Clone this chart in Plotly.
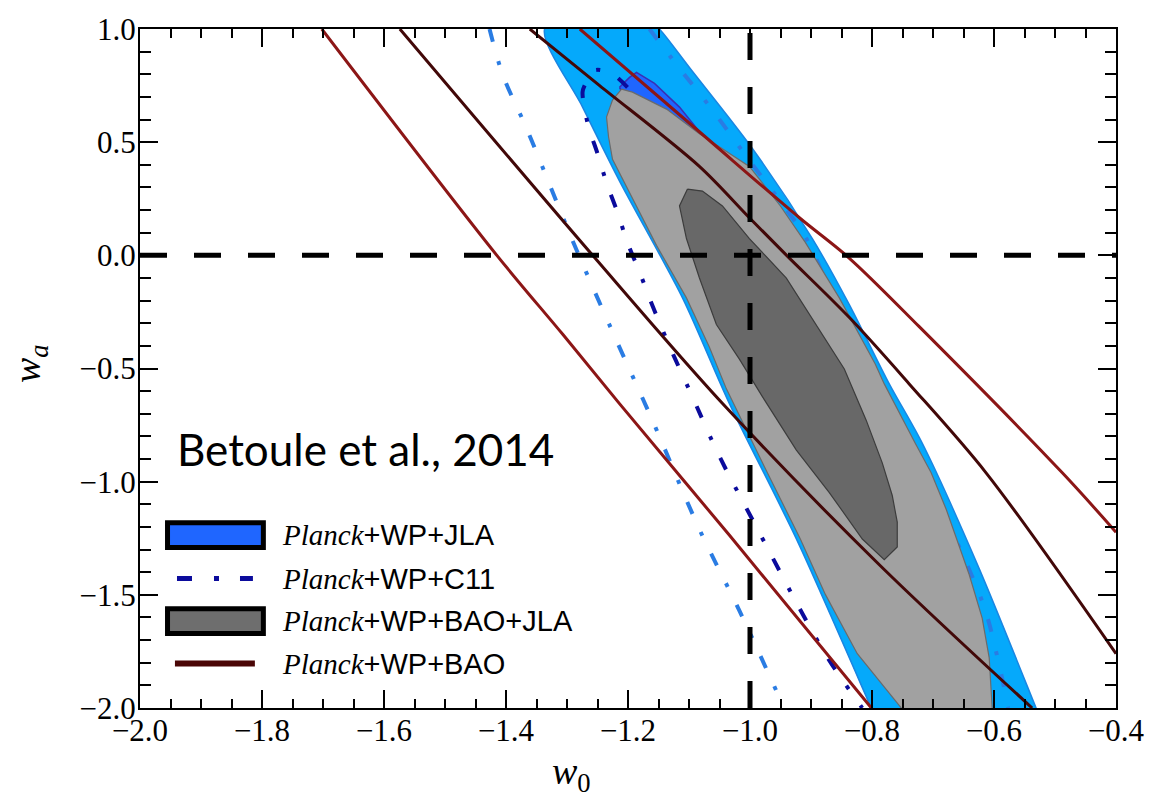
import plotly.graph_objects as go

# ---- axis ticks -------------------------------------------------------
x_tick_vals = [-2.0, -1.8, -1.6, -1.4, -1.2, -1.0, -0.8, -0.6, -0.4]
x_tick_text = ["\u22122.0", "\u22121.8", "\u22121.6", "\u22121.4", "\u22121.2",
               "\u22121.0", "\u22120.8", "\u22120.6", "\u22120.4"]
y_tick_vals = [1.0, 0.5, 0.0, -0.5, -1.0, -1.5, -2.0]
y_tick_text = ["1.0", "0.5", "0.0", "\u22120.5", "\u22121.0", "\u22121.5", "\u22122.0"]

# ---- Planck+WP+JLA (filled contours) ---------------------------------
jla95_w0 = [-1.27, -1.3367, -1.2745, -1.2139, -1.1107, -1.0338, -0.9240, -0.8012, -0.785,
            -0.516, -0.5310, -0.6243, -0.7177, -0.7717, -0.8372, -0.8978, -0.9961,
            -1.0993, -1.1484, -1.18, -1.27]
jla95_wa = [1.12, 1.0, 0.655, 0.328, -0.188, -0.655, -1.253, -2.0, -2.1,
            -2.1, -2.0, -1.384, -0.830, -0.568, -0.218, 0.074, 0.472,
            0.830, 1.0, 1.08, 1.12]

jla68_w0 = [-1.2139, -1.1975, -1.1861, -1.1566, -1.1156, -1.0829, -1.0174, -0.9601,
            -0.9109, -0.8863, -0.9191, -0.9846, -1.0665, -1.1484, -1.1975, -1.2139]
jla68_wa = [0.7424, 0.786, 0.8079, 0.7598, 0.6550, 0.5459, 0.3799, 0.1965,
            0.0, -0.1747, -0.2183, -0.0437, 0.2183, 0.4803, 0.6550, 0.7424]

# ---- Planck+WP+C11 (dash-dot contours) -------------------------------
c11_outer_left_w0 = [-1.427, -1.405, -1.366, -1.291, -1.227, -1.160, -1.083, -1.017, -0.944]
c11_outer_left_wa = [1.0, 0.795, 0.559, 0.066, -0.328, -0.729, -1.210, -1.572, -2.0]

c11_outer_right_w0 = [-1.1648, -1.1206, -1.0616, -1.0059, -0.9388, -0.9077, -0.8372,
                      -0.7226, -0.6178, -0.5932, -0.5768]
c11_outer_right_wa = [1.0, 0.843, 0.642, 0.437, 0.1965, 0.0742, -0.349,
                      -0.917, -1.541, -1.790, -2.0]

c11_inner_w0 = [-1.2008, -1.227, -1.255, -1.271, -1.2745, -1.266, -1.250, -1.235, -1.217,
                -1.201, -1.181, -1.165, -1.145, -1.124, -1.104, -1.083, -1.062, -1.039,
                -1.017, -0.968, -0.919, -0.870, -0.816]
c11_inner_wa = [0.742, 0.803, 0.817, 0.751, 0.721, 0.581, 0.450, 0.319, 0.188,
                0.057, -0.074, -0.188, -0.319, -0.450, -0.568, -0.694, -0.821, -0.948,
                -1.061, -1.310, -1.559, -1.790, -2.0]

# ---- Planck+WP+BAO+JLA (filled contours) -----------------------------
bj95_w0 = [-1.2106, -1.1926, -1.1369, -1.0829, -1.0010, -0.9502, -0.9093, -0.8536,
           -0.7947, -0.7799, -0.7291, -0.7030, -0.6784, -0.6407, -0.6194, -0.6079,
           -0.6030, -0.6008, -0.722, -0.7521, -0.8241, -0.8765, -0.9175, -0.9715,
           -1.0387, -1.0665, -1.1042, -1.1533, -1.1926, -1.2254, -1.2319, -1.2352,
           -1.2254, -1.2106]
bj95_wa = [0.734, 0.721, 0.646, 0.537, 0.393, 0.218, 0.057, -0.188,
           -0.480, -0.568, -0.830, -0.961, -1.122, -1.410, -1.603, -1.777,
           -2.0, -2.1, -2.1, -2.0, -1.760, -1.498, -1.253, -0.961,
           -0.590, -0.406, -0.188, 0.044, 0.249, 0.424, 0.524, 0.611,
           0.686, 0.734]

bj68_w0 = [-1.1025, -1.0780, -1.0452, -1.0010, -0.9404, -0.8913, -0.8454, -0.8094,
           -0.7832, -0.7668, -0.7586, -0.7586, -0.7799, -0.8159, -0.8700, -0.9240,
           -0.9797, -1.0174, -1.0551, -1.0829, -1.1042, -1.1156, -1.1025]
bj68_wa = [0.2926, 0.2838, 0.2183, 0.0742, -0.1004, -0.3057, -0.5022, -0.7293,
           -0.9170, -1.0611, -1.1790, -1.2882, -1.3450, -1.2533, -1.0480, -0.8603,
           -0.6245, -0.4585, -0.3057, -0.1004, 0.0742, 0.2183, 0.2926]

# ---- Planck+WP+BAO (line contours) -----------------------------------
bao95_left_w0 = [-1.702, -1.415, -1.307, -1.214, -1.034, -0.801]
bao95_left_wa = [1.0, 0.0, -0.349, -0.655, -1.236, -2.0]

bao68_left_w0 = [-1.574, -1.258, -1.045, -0.788, -0.5375]
bao68_left_wa = [1.0, 0.0, -0.655, -1.367, -2.0]

bao68_right_w0 = [-1.361, -1.247, -1.083, -1.001, -0.940, -0.837, -0.739, -0.613, -0.4]
bao68_right_wa = [1.0, 0.751, 0.393, 0.166, 0.0, -0.275, -0.568, -0.961, -1.760]

bao95_right_w0 = [-1.279, -1.083, -0.919, -0.837, -0.723, -0.488, -0.4]
bao95_right_wa = [1.0, 0.546, 0.166, -0.013, -0.314, -0.961, -1.223]

# ---- reference model (w0 = -1, wa = 0) --------------------------------
w0_lcdm = -1.0
wa_lcdm = 0.0

# ---- styles -------------------------------------------------------------
SERIF = "Liberation Serif"
SANS = "Liberation Sans"
JLA95_FILL, JLA95_EDGE = "#05a9fb", "#1b86e2"
JLA68_FILL, JLA68_EDGE = "#1f66ff", "#3a2fb4"
BJ95_FILL, BJ95_EDGE = "#a1a1a1", "#6b6b6b"
BJ68_FILL, BJ68_EDGE = "#686868", "#3c3c3c"
C11_LIGHT, C11_DARK = "#2a7ce3", "#0b0b9c"
BAO_RED, BAO_DARK = "#8c1616", "#420808"
DASHDOT = "13px,20px,4px,20px"

fig = go.Figure()


def filled(xs, ys, fill, edge, width, shape="linear"):
    fig.add_trace(go.Scatter(x=xs, y=ys, mode="lines", fill="toself",
                             fillcolor=fill,
                             line=dict(color=edge, width=width, shape=shape, smoothing=0.8),
                             hoverinfo="skip", showlegend=False))


def curve(xs, ys, color, width, dash="solid", shape="spline"):
    fig.add_trace(go.Scatter(x=xs, y=ys, mode="lines",
                             line=dict(color=color, width=width, dash=dash,
                                       shape=shape, smoothing=0.9),
                             hoverinfo="skip", showlegend=False))


filled(jla95_w0, jla95_wa, JLA95_FILL, JLA95_EDGE, 1.5, "spline")
filled(jla68_w0, jla68_wa, JLA68_FILL, JLA68_EDGE, 1.5)

curve(c11_outer_left_w0, c11_outer_left_wa, C11_LIGHT, 4, DASHDOT)
curve(c11_outer_right_w0, c11_outer_right_wa, C11_LIGHT, 4, DASHDOT)
curve(c11_inner_w0, c11_inner_wa, C11_DARK, 4, DASHDOT)

filled(bj95_w0, bj95_wa, BJ95_FILL, BJ95_EDGE, 1.2)
filled(bj68_w0, bj68_wa, BJ68_FILL, BJ68_EDGE, 1.2)

curve(bao95_left_w0, bao95_left_wa, BAO_RED, 3)
curve(bao68_left_w0, bao68_left_wa, BAO_DARK, 3)
curve(bao68_right_w0, bao68_right_wa, BAO_DARK, 3)
curve(bao95_right_w0, bao95_right_wa, BAO_RED, 3)

# dashed cross-hair at the cosmological constant
curve([w0_lcdm, w0_lcdm], [-2.0, 1.0], "black", 5, "27px,27px", "linear")
curve([-2.0, -0.4], [wa_lcdm, wa_lcdm], "black", 5, "27px,27px", "linear")

# ---- hand-drawn legend (paper coordinates) -----------------------------
legend_labels = ["<i>Planck</i>+WP+JLA", "<i>Planck</i>+WP+C11",
                 "<i>Planck</i>+WP+BAO+JLA", "<i>Planck</i>+WP+BAO"]
legend_rows_y = [0.2547, 0.1907, 0.1281, 0.0655]

shapes = [
    dict(type="rect", xref="paper", yref="paper", x0=0.0282, x1=0.1264,
         y0=0.2365, y1=0.2729, fillcolor=JLA68_FILL, line=dict(color="black", width=5)),
    dict(type="line", xref="paper", yref="paper", x0=0.0379, x1=0.1157,
         y0=legend_rows_y[1], y1=legend_rows_y[1],
         line=dict(color=C11_DARK, width=5, dash="15px,22px,5px,21px")),
    dict(type="rect", xref="paper", yref="paper", x0=0.0282, x1=0.1264,
         y0=0.1099, y1=0.1463, fillcolor="#6e6e6e", line=dict(color="black", width=5)),
    dict(type="line", xref="paper", yref="paper", x0=0.0358, x1=0.1177,
         y0=legend_rows_y[3], y1=legend_rows_y[3],
         line=dict(color="#4a0606", width=6)),
]

annotations = []
for label, yy in zip(legend_labels, legend_rows_y):
    label = label.replace("<i>Planck</i>",
                          "<span style='font-family:%s'><i>Planck</i></span>" % SERIF)
    annotations.append(dict(text=label, xref="paper", yref="paper", x=0.1433, y=yy,
                            xanchor="left", yanchor="middle", showarrow=False,
                            font=dict(family=SANS, size=29, color="black")))

annotations.append(dict(text="Betoule et al., 2014", xref="paper", yref="paper",
                        x=0.0358, y=0.3815, xanchor="left", yanchor="middle",
                        showarrow=False, font=dict(family="Lato", size=44, color="black")))

annotations.append(dict(text="<i>w</i><sub>0</sub>", xref="paper", yref="paper",
                        x=0.4422, y=-0.0975, xanchor="center", yanchor="middle",
                        showarrow=False, font=dict(family=SERIF, size=38, color="black")))
annotations.append(dict(text="<i>w</i><sub><i>a</i></sub>", xref="paper", yref="paper",
                        x=-0.1126, y=0.5066, xanchor="center", yanchor="middle",
                        textangle=-90, showarrow=False,
                        font=dict(family=SERIF, size=38, color="black")))

axis_common = dict(showgrid=False, zeroline=False, showline=True, linecolor="black",
                   linewidth=2, mirror="allticks", ticks="inside", tickwidth=2,
                   tickcolor="black", ticklen=18,
                   tickfont=dict(family=SERIF, size=31, color="black"))

fig.update_layout(
    width=1157, height=799,
    margin=dict(l=140, r=40, t=21, b=91),
    paper_bgcolor="white", plot_bgcolor="white",
    font=dict(family=SERIF, size=29, color="black"),
    showlegend=False,
    shapes=shapes,
    annotations=annotations,
    xaxis=dict(range=[-2.0, -0.4], tickmode="array", tickvals=x_tick_vals,
               ticktext=x_tick_text, ticklabelstandoff=-6,
               minor=dict(tickmode="linear", tick0=-2.0, dtick=0.05, ticklen=9,
                          tickwidth=1.5, tickcolor="black", ticks="inside"),
               **axis_common),
    yaxis=dict(range=[-2.0, 1.0], tickmode="array", tickvals=y_tick_vals,
               ticktext=y_tick_text, ticklabelstandoff=-4,
               minor=dict(tickmode="linear", tick0=-2.0, dtick=0.1, ticklen=11,
                          tickwidth=1.5, tickcolor="black", ticks="inside"),
               **axis_common),
)

fig.write_html("out.html")
